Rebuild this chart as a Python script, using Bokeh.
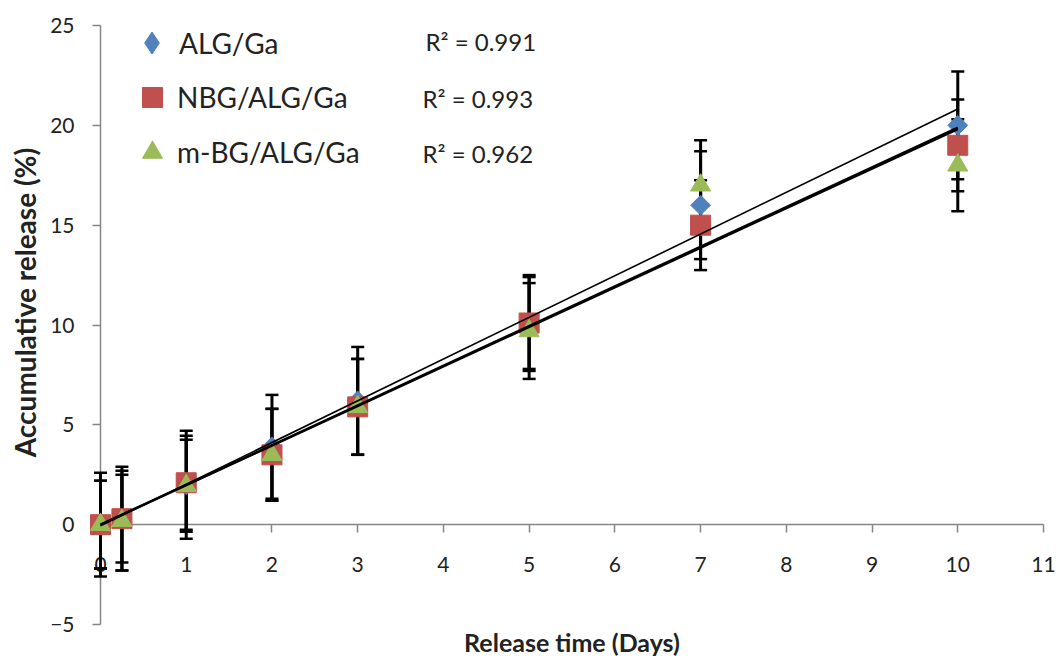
import numpy as np
from bokeh.plotting import figure
from bokeh.models import (ColumnDataSource, LinearAxis, FixedTicker, Whisker, TeeHead,
                          Legend, LegendItem, Label, Range1d)
from bokeh.embed import file_html
from bokeh.resources import INLINE

# ---------------- data ----------------
days = [0, 0.25, 1, 2, 3, 5, 7, 10]

alg_ga = [0.0, 0.3, 2.0, 3.9, 6.2, 10.1, 16.0, 20.0]
alg_ga_err = [2.6, 2.6, 2.7, 2.6, 2.7, 2.4, 2.7, 2.7]

nbg_alg_ga = [0.0, 0.3, 2.1, 3.5, 5.9, 10.1, 15.0, 19.0]
nbg_alg_ga_err = [2.2, 2.2, 2.35, 2.3, 2.4, 2.3, 2.25, 2.3]

mbg_alg_ga = [0.0, 0.2, 1.95, 3.5, 5.9, 9.7, 17.0, 18.0]
mbg_alg_ga_err = [2.2, 2.5, 2.3, 2.3, 2.4, 2.4, 2.25, 2.3]

series_names = ["ALG/Ga", "NBG/ALG/Ga", "m-BG/ALG/Ga"]
r2_texts = ["R\u00b2 = 0.991", "R\u00b2 = 0.993", "R\u00b2 = 0.962"]
x_ticks = [0, 1, 2, 3, 4, 5, 6, 7, 8, 9, 10, 11]
y_ticks = [-5, 0, 5, 10, 15, 20, 25]
x_title = "Release time (Days)"
y_title = "Accumulative release (%)"

colors = ["#4F81BD", "#C0504D", "#9BBB59"]
FONT = "Lato"
TXT = "#222222"
AXC = "#868686"

# ---------------- figure (frame spans the whole canvas) ----------------
p = figure(width=1056, height=658, output_backend="svg", toolbar_location=None,
           x_range=Range1d(-1.1665, 11.1516), y_range=Range1d(-6.7028, 26.2521),
           x_axis_location=None, y_axis_location=None,
           min_border_left=0, min_border_right=0, min_border_top=0, min_border_bottom=0)
p.outline_line_color = None
p.background_fill_color = "white"
p.border_fill_color = "white"
p.grid.grid_line_color = None


def style_axis(ax):
    ax.axis_line_color = AXC
    ax.axis_line_width = 1.5
    ax.major_tick_line_color = AXC
    ax.major_tick_line_width = 1.5
    ax.major_tick_in = 0
    ax.major_tick_out = 8
    ax.minor_tick_in = 0
    ax.minor_tick_out = 0
    ax.major_label_text_font = FONT
    ax.major_label_text_font_size = "21px"
    ax.major_label_text_color = TXT
    ax.level = "underlay"


xaxis = LinearAxis(fixed_location=0, bounds=(0, 11), ticker=FixedTicker(ticks=x_ticks))
style_axis(xaxis)
xaxis.major_label_standoff = 24
p.add_layout(xaxis, "below")

yaxis = LinearAxis(fixed_location=0, bounds=(-5, 25), ticker=FixedTicker(ticks=y_ticks))
style_axis(yaxis)
yaxis.major_label_standoff = 18
p.add_layout(yaxis, "left")

# ---------------- error bars ----------------
all_vals = [alg_ga, nbg_alg_ga, mbg_alg_ga]
all_errs = [alg_ga_err, nbg_alg_ga_err, mbg_alg_ga_err]
for vals, errs in zip(all_vals, all_errs):
    src = ColumnDataSource(dict(x=days,
                                lower=[v - e for v, e in zip(vals, errs)],
                                upper=[v + e for v, e in zip(vals, errs)]))
    w = Whisker(source=src, base="x", lower="lower", upper="upper", dimension="height",
                line_color="black", line_width=3,
                upper_head=TeeHead(size=13, line_width=2.5, line_color="black"),
                lower_head=TeeHead(size=13, line_width=2.5, line_color="black"))
    p.add_layout(w)

# ---------------- markers ----------------
r_alg = p.scatter(days, alg_ga, marker="square", angle=np.pi / 4, size=14,
                  fill_color=colors[0], line_color=colors[0])
r_nbg = p.scatter(days, nbg_alg_ga, marker="square", size=20,
                  fill_color=colors[1], line_color=colors[1])
r_mbg = p.scatter(days, mbg_alg_ga, marker="triangle", size=20,
                  fill_color=colors[2], line_color=colors[2])
# hidden twin of the ALG/Ga series, used only so its legend key is a diamond
r_alg_key = p.scatter(days, alg_ga, marker="diamond", size=20, visible=False,
                      fill_color=colors[0], line_color=colors[0])

# ---------------- linear trend lines ----------------
for vals, lw in zip(all_vals, [1.6, 2.2, 2.2]):
    k, b = np.polyfit(days, vals, 1)
    xs = [days[0], days[-1]]
    p.line(xs, [k * xx + b for xx in xs], line_color="black", line_width=lw)

# ---------------- legends (one per series, to size glyphs individually) ----------------
leg_specs = [(r_alg_key, 55, -12, (124, 588)),
             (r_nbg, 50, -10, (127, 536)),
             (r_mbg, 50, -10, (127, 481))]
for name, (rend, gw, so, loc) in zip(series_names, leg_specs):
    lg = Legend(items=[LegendItem(label=name, renderers=[rend])], location=loc,
                glyph_width=gw, glyph_height=gw, label_height=gw, label_standoff=so,
                padding=0, margin=0, spacing=0, background_fill_alpha=0,
                border_line_color=None, label_text_font=FONT, click_policy="none",
                label_text_font_size="28px", label_text_color=TXT)
    p.add_layout(lg, "center")

# ---------------- R² annotations ----------------
r2_pos = [(3.791, 24.19), (3.756, 21.33), (3.756, 18.57)]
for txt, (lx, ly) in zip(r2_texts, r2_pos):
    p.add_layout(Label(x=lx, y=ly, text=txt, text_font=FONT, text_font_size="24px",
                       text_color=TXT, text_baseline="middle", text_align="left"))

# ---------------- axis titles ----------------
p.add_layout(Label(x=5.50, y=-6.64, text=x_title, text_font=FONT, text_font_size="25px",
                   text_font_style="bold", text_color=TXT, text_align="center",
                   text_baseline="bottom"))
p.add_layout(Label(x=-0.8865, y=11.127, text=y_title, text_font=FONT, text_font_size="28px",
                   text_font_style="bold", text_color=TXT, text_align="center",
                   text_baseline="middle", angle=np.pi / 2))

open("out.html", "w").write(file_html(p, INLINE))
